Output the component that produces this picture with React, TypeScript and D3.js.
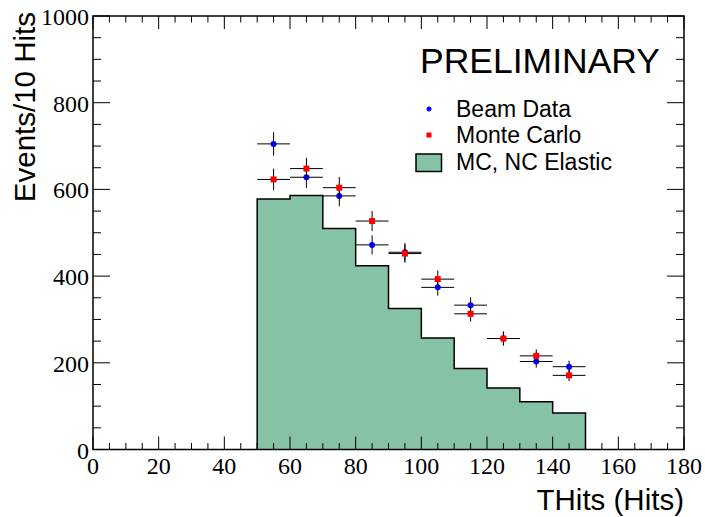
import React from "react";
import * as d3 from "d3";

const binEdges = [50, 60, 70, 80, 90, 100, 110, 120, 130, 140, 150];
const mcElastic = [578, 586, 510, 424, 325, 257, 187, 142, 110, 84];
const binCenters = [55, 65, 75, 85, 95, 105, 115, 125, 135, 145];
const beamData = [705, 628, 585, 472, 455, 374, 333, 256, 203, 191];
const beamErr = [27, 25, 24, 22, 21, 19, 18, 16, 14, 14];
const monteCarlo = [623, 648, 604, 527, 452, 393, 313, 256, 216, 171];
const mcErr = [25, 25, 25, 23, 21, 20, 18, 16, 15, 13];
const xTickLabels = [0, 20, 40, 60, 80, 100, 120, 140, 160, 180];
const yTickLabels = [0, 200, 400, 600, 800, 1000];
const legendLabels = ["Beam Data", "Monte Carlo", "MC, NC Elastic"];

const W = 705, H = 517;
const L = 93, R = 684, T = 16, B = 449.5;

export default function App() {
  const x = d3.scaleLinear().domain([0, 180]).range([L, R]);
  const y = d3.scaleLinear().domain([0, 1000]).range([B, T]);
  const fill = "#86c2a5";

  const xMinor = d3.range(0, 181, 5);
  const yMinor = d3.range(0, 1001, 50);

  const histPts: [number, number][] = [];
  histPts.push([x(binEdges[0]), y(0)]);
  mcElastic.forEach((v, i) => {
    histPts.push([x(binEdges[i]), y(v)]);
    histPts.push([x(binEdges[i + 1]), y(v)]);
  });
  histPts.push([x(binEdges[binEdges.length - 1]), y(0)]);
  const histPath = d3.line()(histPts) || "";

  const serifStyle = { fontFamily: "Liberation Serif" };
  const sansStyle = { fontFamily: "Liberation Sans" };

  return (
    <svg width={W} height={H} style={{ position: "absolute", left: 0, top: 0 }}>
      <rect x={0} y={0} width={W} height={H} fill="white" />
      {/* histogram */}
      <path d={histPath + "Z"} fill={fill} stroke="none" />
      <path d={histPath} fill="none" stroke="#000" strokeWidth={1.5} />

      {/* frame */}
      <rect x={L} y={T} width={R - L} height={B - T} fill="none" stroke="#000" strokeWidth={1.5} />

      {/* x ticks */}
      {xMinor.map((v) => {
        const major = v % 20 === 0;
        const len = major ? 13 : 6.5;
        return (
          <g key={"xt" + v}>
            <line x1={x(v)} x2={x(v)} y1={B} y2={B - len} stroke="#000" strokeWidth={1} />
            <line x1={x(v)} x2={x(v)} y1={T} y2={T + len} stroke="#000" strokeWidth={1} />
          </g>
        );
      })}
      {/* y ticks */}
      {yMinor.map((v) => {
        const major = v % 200 === 0;
        const len = major ? 17 : 8;
        return (
          <g key={"yt" + v}>
            <line x1={L} x2={L + len} y1={y(v)} y2={y(v)} stroke="#000" strokeWidth={1} />
            <line x1={R} x2={R - len} y1={y(v)} y2={y(v)} stroke="#000" strokeWidth={1} />
          </g>
        );
      })}

      {/* tick labels */}
      {xTickLabels.map((v) => (
        <text key={"xl" + v} x={x(v)} y={B + 24} textAnchor="middle" fontSize={24} fill="#000" style={serifStyle}>
          {v}
        </text>
      ))}
      {yTickLabels.map((v) => (
        <text key={"yl" + v} x={L - 4} y={y(v) + 9} textAnchor="end" fontSize={24} fill="#000" style={serifStyle}>
          {v}
        </text>
      ))}

      {/* axis titles */}
      <text x={R} y={510} textAnchor="end" fontSize={29.5} fill="#000" style={sansStyle}>
        THits (Hits)
      </text>
      <text transform={`translate(35,${T - 4}) rotate(-90)`} textAnchor="end" fontSize={29.5} fill="#000" style={sansStyle}>
        Events/10 Hits
      </text>

      {/* PRELIMINARY */}
      <text x={420} y={73} fontSize={35.5} fill="#000" style={sansStyle}>
        PRELIMINARY
      </text>

      {/* legend */}
      <text x={456} y={117} fontSize={23} fill="#000" style={sansStyle}>{legendLabels[0]}</text>
      <text x={456} y={143} fontSize={23} fill="#000" style={sansStyle}>{legendLabels[1]}</text>
      <text x={456} y={169.5} fontSize={23} fill="#000" style={sansStyle}>{legendLabels[2]}</text>

      {/* beam data */}
      {binCenters.map((c, i) => (
        <g key={"bd" + i}>
          <line x1={x(c - 5)} x2={x(c + 5)} y1={y(beamData[i])} y2={y(beamData[i])} stroke="#000" strokeWidth={1} />
          <line x1={x(c)} x2={x(c)} y1={y(beamData[i] - beamErr[i])} y2={y(beamData[i] + beamErr[i])} stroke="#000" strokeWidth={1} />
          <circle cx={x(c)} cy={y(beamData[i])} r={3} fill="#0000ff" />
        </g>
      ))}
      {/* monte carlo */}
      {binCenters.map((c, i) => (
        <g key={"mc" + i}>
          <line x1={x(c - 5)} x2={x(c + 5)} y1={y(monteCarlo[i])} y2={y(monteCarlo[i])} stroke="#000" strokeWidth={1} />
          <line x1={x(c)} x2={x(c)} y1={y(monteCarlo[i] - mcErr[i])} y2={y(monteCarlo[i] + mcErr[i])} stroke="#000" strokeWidth={1} />
          <rect x={x(c) - 3} y={y(monteCarlo[i]) - 3} width={6} height={6} fill="#ff0000" />
        </g>
      ))}

      {/* legend markers */}
      <circle cx={429} cy={109} r={2.5} fill="#0000ff" />
      <rect x={426.5} y={132.5} width={5} height={5} fill="#ff0000" />
      <rect x={416} y={154} width={25.5} height={17.5} fill={fill} stroke="#000" strokeWidth={1.5} />
    </svg>
  );
}
